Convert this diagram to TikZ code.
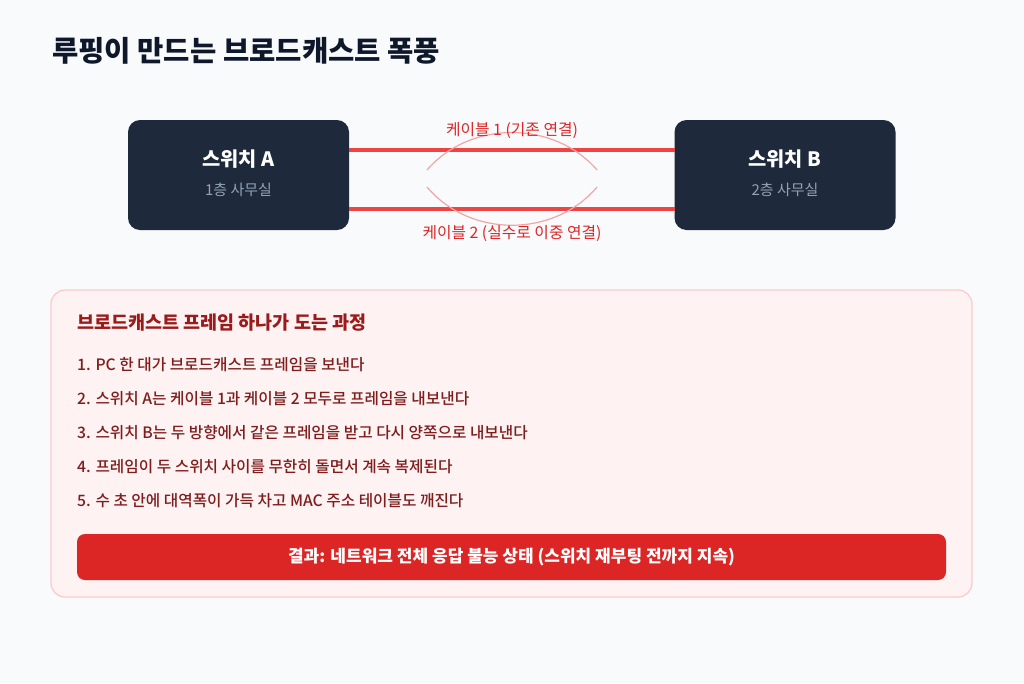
\documentclass[tikz,border=0pt]{standalone}
\usepackage{fontspec}
\setmainfont{Noto Sans CJK KR}
\newfontfamily\medfont{Noto Sans CJK KR}[UprightFont=* Medium]
\definecolor{bgc}{HTML}{F8FAFC}
\definecolor{titlec}{HTML}{0F172A}
\definecolor{swc}{HTML}{1E293B}
\definecolor{subc}{HTML}{94A3B8}
\definecolor{cablec}{HTML}{EF4444}
\definecolor{labc}{HTML}{DC2626}
\definecolor{arcc}{HTML}{F3A5A5}
\definecolor{panelc}{HTML}{FEF2F2}
\definecolor{panelb}{HTML}{FECACA}
\definecolor{ptitlec}{HTML}{991B1B}
\definecolor{itemc}{HTML}{7F1D1D}
\definecolor{resc}{HTML}{DC2626}
\begin{document}
\begin{tikzpicture}[x=1pt,y=-1pt,
  switchbox/.style={draw=none,fill=swc,rounded corners=12pt,minimum width=221pt,minimum height=110pt,inner sep=0pt},
  swname/.style={text=white,font=\bfseries\fontsize{19.8}{22}\selectfont,anchor=center},
  swsub/.style={text=subc,font=\fontsize{15}{17}\selectfont,anchor=center},
  cable/.style={draw=cablec,line width=4pt},
  cablelab/.style={text=labc,font=\fontsize{15.8}{18}\selectfont,anchor=center},
  looparc/.style={draw=arcc,line width=1.2pt},
  itemtext/.style={text=itemc,font=\medfont\fontsize{15.7}{18}\selectfont,anchor=base west,inner sep=0pt}]
\fill[bgc] (0,0) rectangle (1024,683);
\useasboundingbox (0,0) rectangle (1024,683);
\node[anchor=base west,inner sep=0pt,text=titlec,font=\bfseries\fontsize{28.6}{32}\selectfont] (title) at (52,61) {루핑이 만드는 브로드캐스트 폭풍};
% switches
\node[switchbox] (swA) at (238.5,175) {};
\node[switchbox] (swB) at (785,175) {};
\node[swname] (swAn) at (238.5,159) {스위치 A};
\node[swsub] (swAs) at (238.5,190) {1층 사무실};
\node[swname] (swBn) at (785,159) {스위치 B};
\node[swsub] (swBs) at (785,190) {2층 사무실};
% cables
\coordinate (a1) at (349,150);
\coordinate (b1) at (675,150);
\coordinate (a2) at (349,209);
\coordinate (b2) at (675,209);
\draw[cable] (a1) -- (b1);
\draw[cable] (a2) -- (b2);
% loop arcs
\coordinate (t1) at (427,170);
\coordinate (t2) at (597,170);
\coordinate (u1) at (427,187);
\coordinate (u2) at (597,187);
\draw[looparc] (t1) .. controls (470,120) and (554,120) .. (t2);
\draw[looparc] (u1) .. controls (470,238) and (554,238) .. (u2);
\node[cablelab] (lab1) at (512,131) {케이블 1 (기존 연결)};
\node[cablelab] (lab2) at (512,234) {케이블 2 (실수로 이중 연결)};
% panel
\draw[fill=panelc,draw=panelb,line width=1.3pt,rounded corners=14pt] (51,290) rectangle (972,597);
\node[anchor=base west,inner sep=0pt,text=ptitlec,font=\bfseries\fontsize{18.5}{21}\selectfont] (ptitle) at (77,329) {브로드캐스트 프레임 하나가 도는 과정};
\node[itemtext] (i1) at (77,370) {1. PC 한 대가 브로드캐스트 프레임을 보낸다};
\node[itemtext] (i2) at (77,404) {2. 스위치 A는 케이블 1과 케이블 2 모두로 프레임을 내보낸다};
\node[itemtext] (i3) at (77,438) {3. 스위치 B는 두 방향에서 같은 프레임을 받고 다시 양쪽으로 내보낸다};
\node[itemtext] (i4) at (77,472) {4. 프레임이 두 스위치 사이를 무한히 돌면서 계속 복제된다};
\node[itemtext] (i5) at (77,506) {5. 수 초 안에 대역폭이 가득 차고 MAC 주소 테이블도 깨진다};
\node[fill=resc,rounded corners=8pt,minimum width=869pt,minimum height=46pt,inner sep=0pt,text=white,font=\bfseries\fontsize{17}{19}\selectfont] (res) at (511.5,557) {결과: 네트워크 전체 응답 불능 상태 (스위치 재부팅 전까지 지속)};
\end{tikzpicture}
\end{document}
